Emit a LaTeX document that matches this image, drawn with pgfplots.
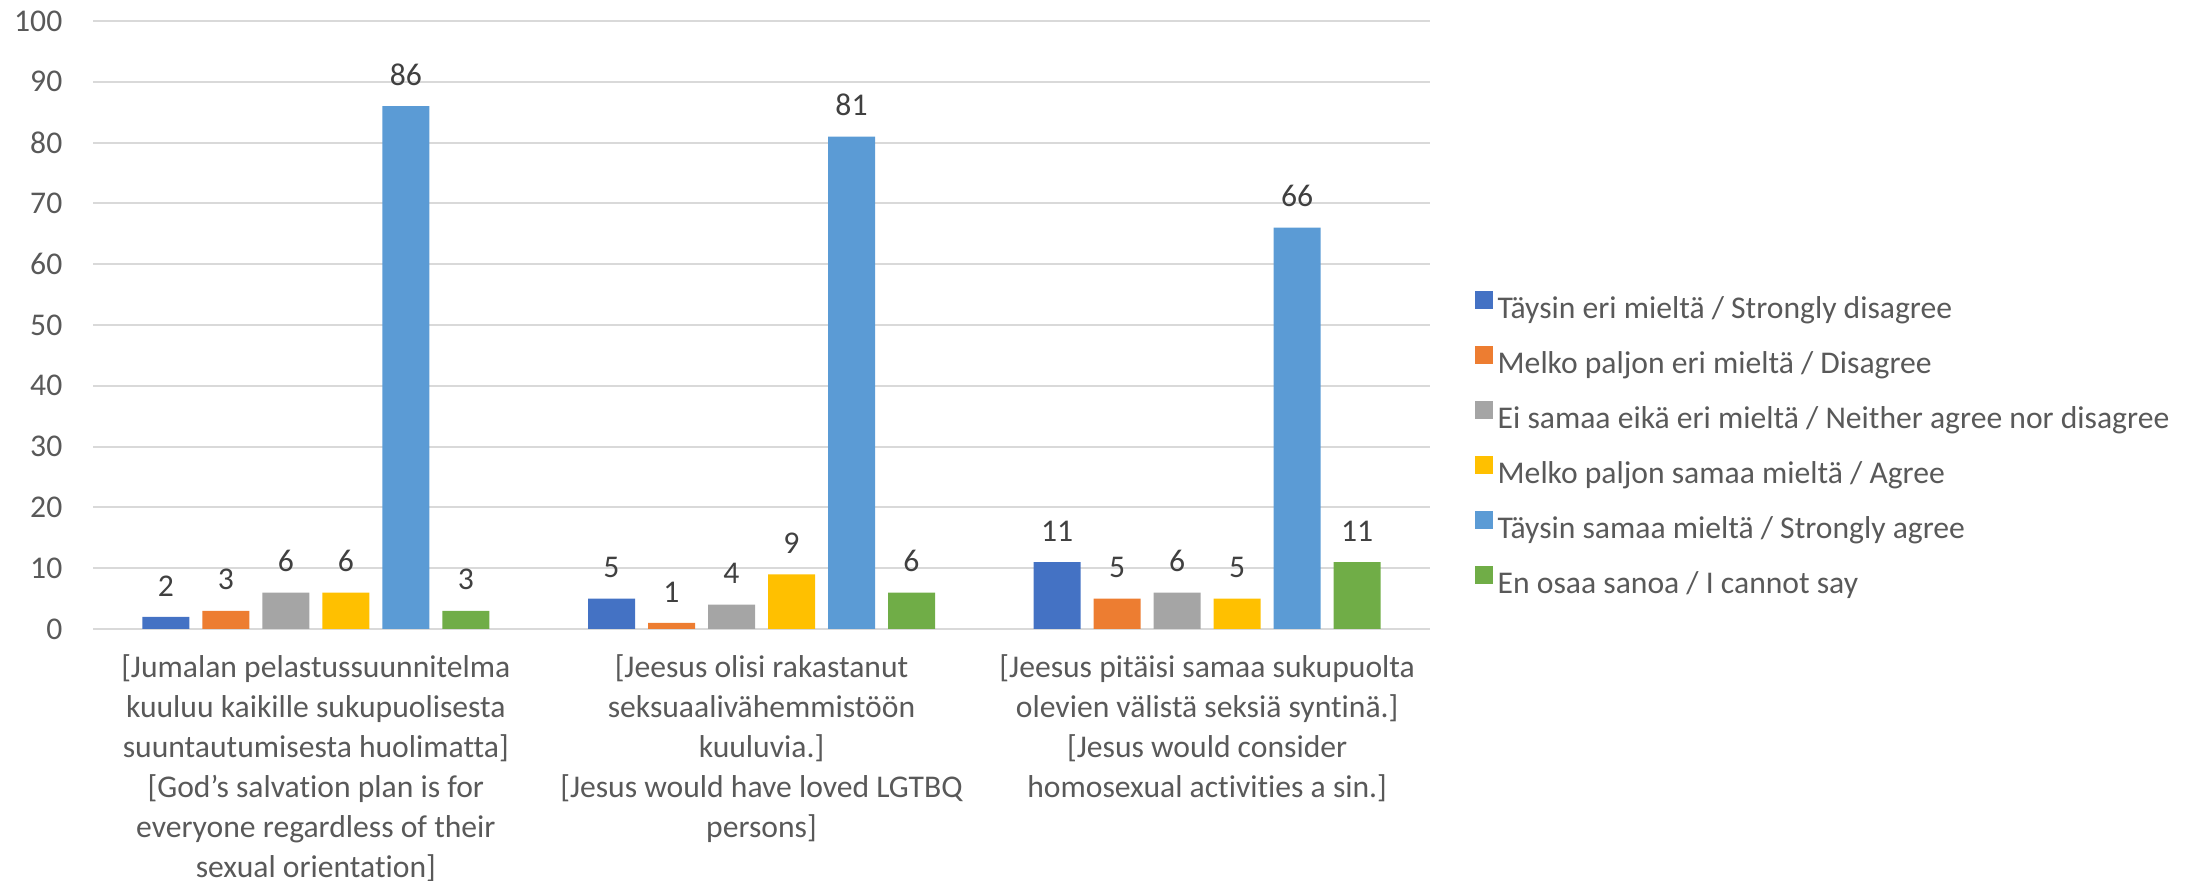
\documentclass[border=0pt]{standalone}
\usepackage{fontspec}
\setmainfont{Carlito}[Ligatures=NoCommon]
\usepackage{pgfplots}
\pgfplotsset{compat=1.18}
\definecolor{cA}{HTML}{4472C4}
\definecolor{cB}{HTML}{ED7D31}
\definecolor{cC}{HTML}{A5A5A5}
\definecolor{cD}{HTML}{FFC000}
\definecolor{cE}{HTML}{5B9BD5}
\definecolor{cF}{HTML}{70AD47}
\definecolor{txt}{HTML}{595959}
\definecolor{lbl}{HTML}{404040}
\definecolor{gridc}{HTML}{D9D9D9}

\begin{document}
\begin{tikzpicture}
\path[use as bounding box] (0,0) rectangle (220.3mm,88.1mm);
\begin{axis}[
  at={(9.3mm,25.2mm)}, anchor=south west,
  scale only axis, width=133.7mm, height=60.8mm,
  ybar=1.3mm, bar width=4.7mm,
  xmin=-0.5, xmax=2.5, ymin=0, ymax=100,
  ytick={0,10,...,100},
  xtick={0,1,2},
  xticklabels={
    {{[}Jumalan pelastussuunnitelma\\kuuluu kaikille sukupuolisesta\\suuntautumisesta huolimatta{]}\\{[}God’s salvation plan is for\\everyone regardless of their\\sexual orientation{]}},
    {{[}Jeesus olisi rakastanut\\seksuaalivähemmistöön\\kuuluvia.{]}\\{[}Jesus would have loved LGTBQ\\persons{]}},
    {{[}Jeesus pitäisi samaa sukupuolta\\olevien välistä seksiä syntinä.{]}\\{[}Jesus would consider\\homosexual activities a sin.{]}}
  },
  ymajorgrids, major grid style={draw=gridc, line width=0.6pt},
  axis line style={draw=none}, tick style={draw=none},
  /pgf/number format/assume math mode=true,
  tick label style={font=\fontsize{9}{11.1}\selectfont, text=txt},
  xticklabel style={align=center, inner sep=0pt, anchor=north, yshift=-0.95mm,
    font=\fontsize{9}{11.4}\selectfont},
  yticklabel style={anchor=east, inner sep=0pt, xshift=-3.0mm},
  nodes near coords,
  nodes near coords style={font=\fontsize{9}{11}\selectfont, text=lbl, inner sep=0pt, yshift=2mm},
  legend cell align=left,
  legend image code/.code={\fill[#1] (0mm,0.1mm) rectangle (1.8mm,1.9mm);},
  legend style={at={(1.0329,0.301)}, anchor=west, draw=none, fill=none,
    inner sep=0pt, row sep=1.95mm, column sep=0.5mm,
    font=\fontsize{9}{11}\selectfont, text=txt,
    nodes={inner sep=0pt, text height=2.5mm, text depth=0.8mm}},
]
\addplot[fill=cA, draw=none] coordinates {(0,2) (1,5) (2,11)};
\addplot[fill=cB, draw=none] coordinates {(0,3) (1,1) (2,5)};
\addplot[fill=cC, draw=none] coordinates {(0,6) (1,4) (2,6)};
\addplot[fill=cD, draw=none] coordinates {(0,6) (1,9) (2,5)};
\addplot[fill=cE, draw=none] coordinates {(0,86) (1,81) (2,66)};
\addplot[fill=cF, draw=none] coordinates {(0,3) (1,6) (2,11)};
\legend{Täysin eri mieltä / Strongly disagree,
        Melko paljon eri mieltä / Disagree,
        Ei samaa eikä eri mieltä / Neither agree nor disagree,
        Melko paljon samaa mieltä / Agree,
        Täysin samaa mieltä / Strongly agree,
        En osaa sanoa / I cannot say}
\end{axis}
\end{tikzpicture}
\end{document}
